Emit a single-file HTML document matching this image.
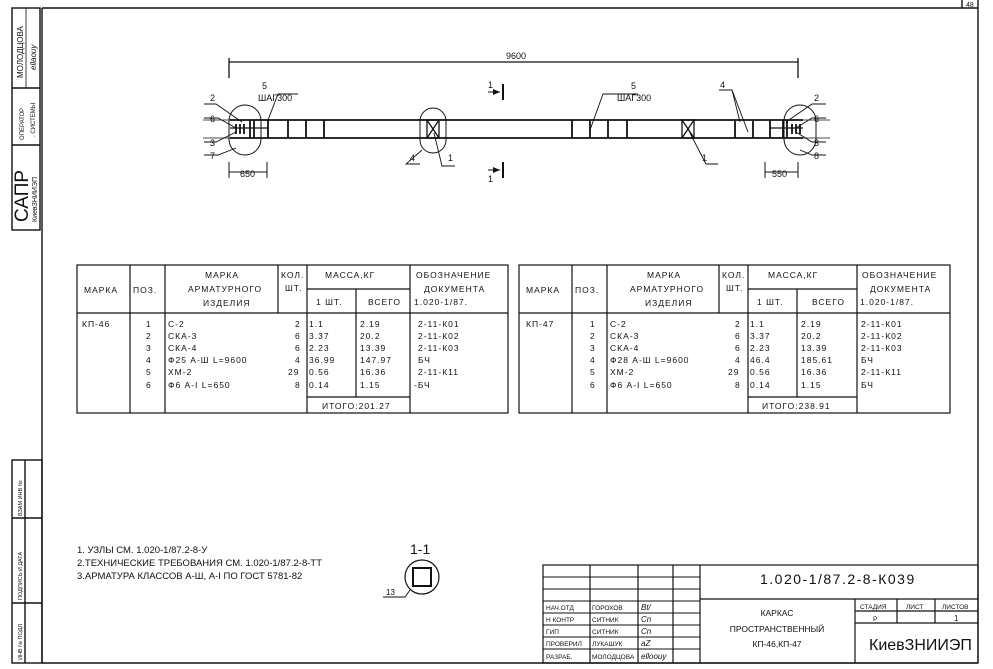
<!DOCTYPE html>
<html><head><meta charset="utf-8"><style>
html,body{margin:0;padding:0;background:#fff;}
svg{display:block;}
text{font-family:"Liberation Sans","DejaVu Sans",sans-serif;fill:#111;}
.t{font-size:9.5px;letter-spacing:1px;}
.s{font-size:7px;}
</style></head><body>
<svg width="993" height="669" viewBox="0 0 993 669" xmlns="http://www.w3.org/2000/svg">
<g stroke="#111" fill="none" stroke-width="1.4">
<!-- frame -->
<line x1="42" y1="8" x2="978" y2="8"/>
<line x1="42" y1="8" x2="42" y2="663"/>
<line x1="978" y1="0" x2="978" y2="663"/>
<line x1="42" y1="663" x2="978" y2="663"/>
<line x1="962" y1="0" x2="962" y2="8"/>
<!-- left stamps -->
<rect x="12" y="8" width="28" height="222"/>
<line x1="12" y1="88" x2="40" y2="88"/>
<line x1="12" y1="145" x2="40" y2="145"/>
<line x1="26" y1="8" x2="26" y2="88" stroke-width="0.8"/>
<rect x="12" y="460" width="30" height="203"/>
<line x1="25" y1="460" x2="25" y2="663"/>
<line x1="12" y1="518" x2="42" y2="518"/>
<line x1="12" y1="603" x2="42" y2="603"/>
</g>
<g font-size="8">
<text transform="translate(23,78) rotate(-90)" style="font-size:8px">МОЛОДЦОВА</text>
<text transform="translate(36,70) rotate(-90)" style="font-size:8px;font-style:italic">ellaouy</text>
<text transform="translate(24,140) rotate(-90)" style="font-size:6px">ОПЕРАТОР</text>
<text transform="translate(35,137) rotate(-90)" style="font-size:6px">. СИСТЕМЫ</text>
<text transform="translate(28,222) rotate(-90)" style="font-size:19px">САПР</text>
<text transform="translate(37,222) rotate(-90)" style="font-size:7px">КиевЗНИИЭП</text>
<text transform="translate(22,516) rotate(-90)" style="font-size:5.5px">ВЗАМ ИНВ №</text>
<text transform="translate(22,600) rotate(-90)" style="font-size:5.5px">ПОДПИСЬ И ДАТА</text>
<text transform="translate(22,660) rotate(-90)" style="font-size:5.5px">ИНВ № ПОДЛ</text>
</g>

<!-- main drawing -->
<g stroke="#111" fill="none" stroke-width="1.3">
<line x1="229" y1="62" x2="798" y2="62"/>
<line x1="229" y1="58" x2="229" y2="78"/>
<line x1="798" y1="58" x2="798" y2="78"/>
<line x1="230" y1="120" x2="803" y2="120" stroke-width="1.8"/>
<line x1="230" y1="138" x2="803" y2="138" stroke-width="1.8"/>
<line x1="203" y1="120" x2="230" y2="120" stroke-width="0.8"/>
<line x1="203" y1="138" x2="230" y2="138" stroke-width="0.8"/>
<line x1="803" y1="120" x2="830" y2="120" stroke-width="0.8"/>
<line x1="803" y1="138" x2="830" y2="138" stroke-width="0.8"/>
<line x1="230" y1="128" x2="268" y2="128"/>
<line x1="770" y1="128" x2="803" y2="128"/>
<!-- bars -->
<g stroke-width="1.8">
<line x1="268" y1="120" x2="268" y2="138"/><line x1="288" y1="120" x2="288" y2="138"/>
<line x1="306" y1="120" x2="306" y2="138"/><line x1="324" y1="120" x2="324" y2="138"/>
<line x1="572" y1="120" x2="572" y2="138"/><line x1="590" y1="120" x2="590" y2="138"/>
<line x1="608" y1="120" x2="608" y2="138"/><line x1="627" y1="120" x2="627" y2="138"/>
<line x1="735" y1="120" x2="735" y2="138"/><line x1="753" y1="120" x2="753" y2="138"/>
<line x1="770" y1="120" x2="770" y2="138"/>
<line x1="236" y1="124" x2="236" y2="134"/><line x1="240" y1="124" x2="240" y2="134"/>
<line x1="244" y1="124" x2="244" y2="134"/><line x1="250" y1="120" x2="250" y2="138"/>
<line x1="254" y1="120" x2="254" y2="138"/>
<line x1="783" y1="120" x2="783" y2="138"/><line x1="787" y1="120" x2="787" y2="138"/>
<line x1="792" y1="124" x2="792" y2="134"/><line x1="796" y1="124" x2="796" y2="134"/>
<line x1="800" y1="124" x2="800" y2="134"/>
</g>
<rect x="427" y="120" width="12" height="18"/>
<line x1="427" y1="120" x2="439" y2="138"/><line x1="439" y1="120" x2="427" y2="138"/>
<rect x="682" y="120" width="12" height="18"/>
<line x1="682" y1="120" x2="694" y2="138"/><line x1="694" y1="120" x2="682" y2="138"/>
<!-- ellipses -->
<rect x="229" y="105" width="32" height="50" rx="16" stroke-width="1"/>
<rect x="420" y="108" width="26" height="45" rx="13" stroke-width="1"/>
<rect x="784" y="105" width="32" height="50" rx="16" stroke-width="1"/>
<!-- section marks -->
<line x1="503" y1="84" x2="503" y2="100" stroke-width="2"/>
<line x1="503" y1="162" x2="503" y2="178" stroke-width="2"/>
<line x1="488" y1="92" x2="500" y2="92" stroke-width="1"/>
<line x1="488" y1="170" x2="500" y2="170" stroke-width="1"/>
<!-- dims -->
<line x1="229" y1="172" x2="267" y2="172" stroke-width="1"/>
<line x1="229" y1="162" x2="229" y2="178" stroke-width="1"/>
<line x1="267" y1="162" x2="267" y2="178" stroke-width="1"/>
<line x1="765" y1="172" x2="798" y2="172" stroke-width="1"/>
<line x1="765" y1="162" x2="765" y2="178" stroke-width="1"/>
<line x1="798" y1="162" x2="798" y2="178" stroke-width="1"/>
<!-- leaders -->
<g stroke-width="0.9">
<polyline points="204,104 216,104 242,122"/>
<polyline points="204,118 218,118 236,128"/>
<polyline points="204,142 216,142 236,132"/>
<polyline points="204,155 218,155 236,148"/>
<polyline points="268,120 278,94 298,94"/>
<polyline points="420,164 406,164 422,150"/>
<polyline points="455,166 442,166 434,133"/>
<polyline points="590,130 603,94 638,94"/>
<polyline points="718,164 706,164 690,133"/>
<polyline points="719,90 732,90 740,122"/>
<polyline points="732,90 748,132"/>
<polyline points="826,104 812,104 786,122"/>
<polyline points="826,118 812,118 796,128"/>
<polyline points="826,142 812,142 796,132"/>
<polyline points="826,155 812,155 800,150"/>
<polyline points="383,597 405,597 410,590"/>
</g>
<!-- section 1-1 -->
<circle cx="422" cy="577" r="17" stroke-width="1.2"/>
<rect x="413" y="568" width="18" height="18" stroke-width="2"/>
</g>
<g fill="#111">
<polygon points="500,92 493,89 493,95"/><polygon points="500,170 493,167 493,173"/>
</g>
<g style="font-size:9px">
<text x="506" y="59">9600</text>
<text x="488" y="88">1</text><text x="488" y="182">1</text>
<text x="262" y="89">5</text><text x="258" y="101">ШАГ300</text>
<text x="631" y="89">5</text><text x="617" y="101">ШАГ300</text>
<text x="720" y="88">4</text>
<text x="210" y="101">2</text><text x="210" y="122">6</text><text x="210" y="146">3</text><text x="210" y="159">7</text>
<text x="410" y="161">4</text><text x="448" y="161">1</text><text x="702" y="161">1</text>
<text x="814" y="101">2</text><text x="814" y="122">6</text><text x="814" y="146">3</text><text x="814" y="159">8</text>
<text x="240" y="177">650</text><text x="772" y="177">550</text>
<text x="410" y="554" style="font-size:14px">1-1</text>
<text x="386" y="595" style="font-size:8px">13</text>
</g>

<!-- tables -->
<g stroke="#111" fill="none" stroke-width="1.2">
<rect x="77" y="265" width="431" height="148"/>
<line x1="77" y1="313" x2="508" y2="313"/>
<line x1="307" y1="289" x2="410" y2="289"/>
<line x1="130" y1="265" x2="130" y2="413"/><line x1="165" y1="265" x2="165" y2="413"/>
<line x1="278" y1="265" x2="278" y2="313"/><line x1="307" y1="265" x2="307" y2="413"/>
<line x1="356" y1="289" x2="356" y2="397"/><line x1="410" y1="265" x2="410" y2="413"/>
<line x1="307" y1="397" x2="410" y2="397"/>
<rect x="519" y="265" width="431" height="148"/>
<line x1="519" y1="313" x2="950" y2="313"/>
<line x1="748" y1="289" x2="857" y2="289"/>
<line x1="572" y1="265" x2="572" y2="413"/><line x1="607" y1="265" x2="607" y2="413"/>
<line x1="719" y1="265" x2="719" y2="313"/><line x1="748" y1="265" x2="748" y2="413"/>
<line x1="797" y1="289" x2="797" y2="397"/><line x1="857" y1="265" x2="857" y2="413"/>
<line x1="748" y1="397" x2="857" y2="397"/>
</g>
<g class="t" style="font-size:8.5px">
<text x="84" y="293">МАРКА</text><text x="133" y="293">ПОЗ.</text>
<text x="205" y="278">МАРКА</text><text x="188" y="292">АРМАТУРНОГО</text><text x="203" y="306">ИЗДЕЛИЯ</text>
<text x="281" y="278">КОЛ.</text><text x="285" y="291">ШТ.</text>
<text x="325" y="278">МАССА,КГ</text><text x="316" y="305">1 ШТ.</text><text x="368" y="305">ВСЕГО</text>
<text x="416" y="278">ОБОЗНАЧЕНИЕ</text><text x="424" y="292">ДОКУМЕНТА</text><text x="414" y="305">1.020-1/87.</text>
<text x="82" y="327">КП-46</text>
<text x="146" y="327">1</text><text x="146" y="339">2</text><text x="146" y="351">3</text><text x="146" y="363">4</text><text x="146" y="375">5</text><text x="146" y="388">6</text>
<text x="168" y="327">С-2</text><text x="168" y="339">СКА-3</text><text x="168" y="351">СКА-4</text><text x="168" y="363">Ф25 А-Ш L=9600</text><text x="168" y="375">ХМ-2</text><text x="168" y="388">Ф6 А-I L=650</text>
<text x="295" y="327">2</text><text x="295" y="339">6</text><text x="295" y="351">6</text><text x="295" y="363">4</text><text x="288" y="375">29</text><text x="295" y="388">8</text>
<text x="309" y="327">1.1</text><text x="309" y="339">3.37</text><text x="309" y="351">2.23</text><text x="309" y="363">36.99</text><text x="309" y="375">0.56</text><text x="309" y="388">0.14</text>
<text x="360" y="327">2.19</text><text x="360" y="339">20.2</text><text x="360" y="351">13.39</text><text x="360" y="363">147.97</text><text x="360" y="375">16.36</text><text x="360" y="388">1.15</text>
<text x="322" y="409">ИТОГО:201.27</text>
<text x="418" y="327">2-11-К01</text><text x="418" y="339">2-11-К02</text><text x="418" y="351">2-11-К03</text><text x="418" y="363">БЧ</text><text x="418" y="375">2-11-К11</text><text x="414" y="388">-БЧ</text>

<text x="526" y="293">МАРКА</text><text x="575" y="293">ПОЗ.</text>
<text x="647" y="278">МАРКА</text><text x="630" y="292">АРМАТУРНОГО</text><text x="645" y="306">ИЗДЕЛИЯ</text>
<text x="722" y="278">КОЛ.</text><text x="726" y="291">ШТ.</text>
<text x="768" y="278">МАССА,КГ</text><text x="757" y="305">1 ШТ.</text><text x="812" y="305">ВСЕГО</text>
<text x="862" y="278">ОБОЗНАЧЕНИЕ</text><text x="870" y="292">ДОКУМЕНТА</text><text x="860" y="305">1.020-1/87.</text>
<text x="526" y="327">КП-47</text>
<text x="590" y="327">1</text><text x="590" y="339">2</text><text x="590" y="351">3</text><text x="590" y="363">4</text><text x="590" y="375">5</text><text x="590" y="388">6</text>
<text x="610" y="327">С-2</text><text x="610" y="339">СКА-3</text><text x="610" y="351">СКА-4</text><text x="610" y="363">Ф28 А-Ш L=9600</text><text x="610" y="375">ХМ-2</text><text x="610" y="388">Ф6 А-I L=650</text>
<text x="735" y="327">2</text><text x="735" y="339">6</text><text x="735" y="351">6</text><text x="735" y="363">4</text><text x="728" y="375">29</text><text x="735" y="388">8</text>
<text x="750" y="327">1.1</text><text x="750" y="339">3.37</text><text x="750" y="351">2.23</text><text x="750" y="363">46.4</text><text x="750" y="375">0.56</text><text x="750" y="388">0.14</text>
<text x="801" y="327">2.19</text><text x="801" y="339">20.2</text><text x="801" y="351">13.39</text><text x="801" y="363">185.61</text><text x="801" y="375">16.36</text><text x="801" y="388">1.15</text>
<text x="762" y="409">ИТОГО:238.91</text>
<text x="861" y="327">2-11-К01</text><text x="861" y="339">2-11-К02</text><text x="861" y="351">2-11-К03</text><text x="861" y="363">БЧ</text><text x="861" y="375">2-11-К11</text><text x="861" y="388">БЧ</text>
</g>

<!-- notes -->
<g style="font-size:9.5px">
<text x="77" y="553">1. УЗЛЫ СМ. 1.020-1/87.2-8-У</text>
<text x="77" y="566">2.ТЕХНИЧЕСКИЕ ТРЕБОВАНИЯ СМ. 1.020-1/87.2-8-ТТ</text>
<text x="77" y="579">3.АРМАТУРА КЛАССОВ А-Ш, А-I ПО ГОСТ 5781-82</text>
</g>

<!-- title block -->
<g stroke="#111" fill="none" stroke-width="1.2">
<rect x="543" y="565" width="435" height="98"/>
<line x1="590" y1="565" x2="590" y2="663"/><line x1="638" y1="565" x2="638" y2="663"/>
<line x1="673" y1="565" x2="673" y2="663"/><line x1="700" y1="565" x2="700" y2="663"/>
<g stroke-width="0.9">
<line x1="543" y1="577" x2="700" y2="577"/><line x1="543" y1="589" x2="700" y2="589"/>
<line x1="543" y1="601" x2="700" y2="601"/><line x1="543" y1="613" x2="700" y2="613"/>
<line x1="543" y1="625" x2="700" y2="625"/><line x1="543" y1="637" x2="700" y2="637"/>
<line x1="543" y1="649" x2="700" y2="649"/>
</g>
<line x1="700" y1="599" x2="978" y2="599"/>
<line x1="855" y1="599" x2="855" y2="663"/>
<line x1="855" y1="611" x2="978" y2="611"/>
<line x1="855" y1="623" x2="978" y2="623"/>
<line x1="897" y1="599" x2="897" y2="623"/><line x1="935" y1="599" x2="935" y2="623"/>
</g>
<g style="font-size:6.5px">
<text x="546" y="610">НАЧ.ОТД</text><text x="592" y="610">ГОРОХОВ</text>
<text x="546" y="622">Н КОНТР</text><text x="592" y="622">СИТНИК</text>
<text x="546" y="634">ГИП</text><text x="592" y="634">СИТНИК</text>
<text x="546" y="646">ПРОВЕРИЛ</text><text x="592" y="646">ЛУКАШУК</text>
<text x="546" y="659">РАЗРАБ.</text><text x="592" y="659">МОЛОДЦОВА</text>
<text x="860" y="609">СТАДИЯ</text><text x="906" y="609">ЛИСТ</text><text x="942" y="609">ЛИСТОВ</text>
<text x="873" y="621">Р</text><text x="954" y="621" style="font-size:8px">1</text>
</g>
<g style="font-size:8px;font-style:italic">
<text x="641" y="610">Bt/</text><text x="641" y="622">Cn</text><text x="641" y="634">Cn</text><text x="641" y="646">aZ</text><text x="641" y="659">elloouy</text>
</g>
<text x="760" y="584" style="font-size:14px;letter-spacing:1.5px">1.020-1/87.2-8-К039</text>
<text x="777" y="616" text-anchor="middle" style="font-size:8.5px">КАРКАС</text>
<text x="777" y="632" text-anchor="middle" style="font-size:8.5px">ПРОСТРАНСТВЕННЫЙ</text>
<text x="777" y="647" text-anchor="middle" style="font-size:8.5px">КП-46,КП-47</text>
<text x="869" y="650" style="font-size:16px">КиевЗНИИЭП</text>
<text x="966" y="7" style="font-size:7px">48</text>
</svg>
</body></html>
